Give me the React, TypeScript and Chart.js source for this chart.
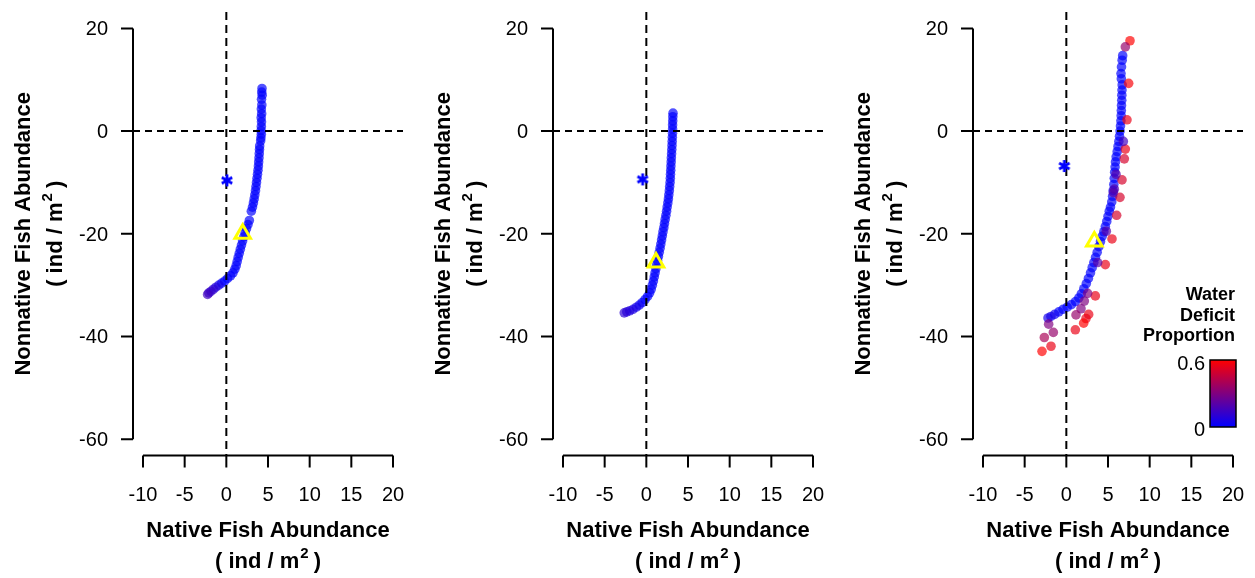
import { useEffect, useRef } from "react";
import { Chart, registerables } from "chart.js";

Chart.register(...registerables);

// ---- shared axis ticks ----
const xTicks = [-10, -5, 0, 5, 10, 15, 20];
const yTicks = [-60, -40, -20, 0, 20];
const legendTicks = [0, 0.6];
const legendTitle = ["Water", "Deficit", "Proportion"];

// ---- panel 1 trajectory ----
const nativeA = [
  4.28, 4.25, 4.3, 4.22, 4.26, 4.2, 4.24, 4.18, 4.22, 4.2, 4.17, 4.2, 4.15, 4.12,
  4.0, 3.98, 3.95, 3.92, 3.88, 3.85, 3.8, 3.74, 3.68, 3.62, 3.56, 3.5, 3.42, 3.34, 3.25, 3.14, 3.0,
  2.76, 2.6, 2.42, 2.25, 2.1, 1.95, 1.82, 1.68, 1.55, 1.42, 1.3, 1.18, 1.02, 0.8, 0.5, 0.15,
  -0.2, -0.55, -0.9, -1.25, -1.55, -1.85, -2.1, -2.25,
];
const nonnativeA = [
  8.3, 7.6, 7.0, 6.2, 5.1, 4.3, 3.4, 2.6, 1.8, 0.9, 0.1, -0.6, -1.3, -1.9,
  -2.9, -3.6, -4.4, -5.2, -6.0, -6.8, -7.6, -8.4, -9.2, -10.0, -10.8, -11.6, -12.4, -13.2, -14.0, -14.8, -15.6,
  -17.4, -18.2, -19.0, -19.8, -20.6, -21.4, -22.2, -23.0, -23.8, -24.6, -25.4, -26.2, -26.9, -27.6, -28.2, -28.7,
  -29.2, -29.6, -30.0, -30.4, -30.8, -31.2, -31.5, -31.8,
];
const deficitA = [
  0, 0, 0, 0, 0, 0, 0, 0, 0, 0, 0, 0, 0, 0,
  0, 0, 0, 0, 0, 0, 0, 0, 0, 0, 0, 0, 0, 0, 0, 0, 0,
  0, 0, 0, 0, 0, 0, 0, 0, 0, 0, 0, 0, 0, 0, 0, 0,
  0, 0, 0.05, 0.08, 0.1, 0.12, 0.12, 0.15,
];
const startA = { x: 0.08, y: -9.6 };
const endA = { x: 1.96, y: -20.0 };

// ---- panel 2 trajectory ----
const nativeB = [
  3.2, 3.18, 3.17, 3.15, 3.15, 3.14, 3.12, 3.1, 3.08, 3.06,
  3.03, 3.0, 2.98, 2.95, 2.93, 2.9, 2.88, 2.85, 2.8, 2.76,
  2.7, 2.65, 2.58, 2.5, 2.43, 2.35, 2.26, 2.18, 2.1, 2.0,
  1.92, 1.83, 1.74, 1.65, 1.55, 1.45, 1.35, 1.25, 1.15, 1.05,
  0.95, 0.85, 0.72, 0.58, 0.4, 0.15, -0.15, -0.5, -0.85, -1.2,
  -1.6, -2.0, -2.35, -2.65,
];
const nonnativeB = [
  3.5, 2.8, 2.0, 1.2, 0.4, -0.4, -1.2, -2.0, -2.8, -3.6,
  -4.4, -5.2, -6.0, -6.8, -7.6, -8.4, -9.2, -10.0, -10.8, -11.6,
  -12.4, -13.2, -14.0, -14.8, -15.6, -16.4, -17.2, -18.0, -18.8, -19.6,
  -20.4, -21.2, -22.0, -22.8, -23.6, -24.4, -25.2, -26.0, -26.8, -27.6,
  -28.4, -29.2, -30.0, -30.8, -31.5, -32.2, -32.8, -33.4, -33.9, -34.3,
  -34.7, -35.0, -35.2, -35.4,
];
const deficitB = [
  0, 0, 0, 0, 0, 0, 0, 0, 0, 0,
  0, 0, 0, 0, 0, 0, 0, 0, 0, 0,
  0, 0, 0, 0, 0, 0, 0, 0, 0, 0,
  0, 0, 0, 0, 0, 0, 0, 0, 0, 0,
  0, 0, 0, 0, 0, 0, 0, 0, 0.03, 0.05,
  0.06, 0.08, 0.08, 0.1,
];
const startB = { x: -0.44, y: -9.4 };
const endB = { x: 1.16, y: -25.6 };

// ---- panel 3 trajectory (coloured by water deficit) ----
const nativeC = [
  6.76, 6.7, 6.62, 6.56, 6.6, 6.7, 6.68, 6.66, 6.65, 6.62,
  6.6, 6.58, 6.55, 6.5, 6.45, 6.38, 6.3, 6.2, 6.1, 5.98,
  5.9, 5.85, 5.8, 5.75, 5.7, 5.62, 5.55, 5.45, 5.3, 5.15,
  5.0, 4.85, 4.68, 4.5, 4.3, 4.1, 3.9, 3.7, 3.5, 3.3,
  3.1, 2.9, 2.65, 2.4, 2.1, 1.8, 1.5, 1.1, 0.6, 0.1,
  -0.4, -0.9, -1.4, -1.85, -2.2,
  7.64, 7.08, 7.48, 7.28, 7.08, 6.96, 6.68, 6.44, 6.04, 5.48,
  4.68, 3.48, 2.68, 2.36, 2.08, 1.08, 2.56, 2.16, 1.76, 1.16,
  -2.12, -1.56, -2.64, -1.84, -2.92, 3.76, 4.8, 5.96, 5.64, 6.84, 5.76,
];
const nonnativeC = [
  14.7, 13.8, 12.5, 11.2, 10.2, 9.0, 8.0, 7.0, 6.0, 5.0,
  4.0, 3.0, 2.0, 1.0, 0.0, -1.0, -2.0, -3.0, -4.0, -5.0,
  -6.0, -7.0, -8.0, -9.2, -10.4, -11.6, -12.7, -13.8, -14.8, -15.6,
  -16.6, -17.6, -18.6, -19.6, -20.5, -21.5, -22.5, -23.6, -24.6, -25.6,
  -26.6, -27.6, -28.7, -29.7, -30.7, -31.7, -32.5, -33.2, -33.8, -34.3,
  -34.7, -35.2, -35.7, -36.1, -36.4,
  17.6, 16.4, 9.3, 2.2, -3.5, -5.4, -9.5, -12.9, -16.4, -21.0,
  -26.0, -32.1, -35.7, -36.5, -37.4, -38.7, -31.6, -33.1, -34.6, -35.8,
  -37.6, -39.2, -40.2, -41.9, -42.9, -25.6, -19.5, -8.4, -12.0, -2.0, -11.3,
];
const deficitC = [
  0, 0, 0, 0, 0, 0, 0, 0, 0, 0,
  0, 0, 0, 0, 0, 0, 0, 0, 0, 0,
  0, 0, 0, 0, 0, 0, 0, 0, 0, 0,
  0, 0, 0, 0, 0, 0, 0, 0, 0, 0,
  0, 0, 0, 0, 0, 0, 0, 0, 0, 0,
  0, 0, 0.03, 0.05, 0.05,
  0.6, 0.35, 0.58, 0.55, 0.55, 0.5, 0.5, 0.5, 0.5, 0.55,
  0.55, 0.55, 0.55, 0.55, 0.6, 0.55, 0.3, 0.3, 0.3, 0.35,
  0.3, 0.35, 0.4, 0.55, 0.6, 0.2, 0.2, 0.2, 0.2, 0.15, 0.2,
];
const startC = { x: -0.24, y: -6.8 };
const endC = { x: 3.36, y: -21.5 };

const DEFICIT_MAX = 0.6;
const FONT = '"Liberation Sans", Arial, Helvetica, sans-serif';
const CANVAS_W = 420;
const CANVAS_H = 578;

function deficitRGB(d: number): [number, number, number] {
  const t = Math.max(0, Math.min(1, d / DEFICIT_MAX));
  return [Math.round(255 * t), 0, Math.round(255 * (1 - t))];
}

function deficitColor(d: number, alpha = 0.6) {
  const [r, g, b] = deficitRGB(d);
  return `rgba(${r},${g},${b},${alpha})`;
}

function makeAsterisk(color: string) {
  const c = document.createElement("canvas");
  c.width = 16;
  c.height = 16;
  const g = c.getContext("2d")!;
  g.strokeStyle = color;
  g.lineWidth = 2.8;
  const r = 6;
  g.beginPath();
  for (const deg of [90, 30, 150]) {
    const a = (deg * Math.PI) / 180;
    g.moveTo(8 + Math.cos(a) * r, 8 - Math.sin(a) * r);
    g.lineTo(8 - Math.cos(a) * r, 8 + Math.sin(a) * r);
  }
  g.stroke();
  return c;
}

// "( ind / m^2 )" centred on cx with the given baseline
function drawUnits(ctx: CanvasRenderingContext2D, cx: number, baseline: number) {
  const big = `bold 22px ${FONT}`;
  const small = `bold 15px ${FONT}`;
  const a = "( ind / m";
  const b = "2";
  const c = " )";
  ctx.font = big;
  const wa = ctx.measureText(a).width;
  const wc = ctx.measureText(c).width;
  ctx.font = small;
  const wb = ctx.measureText(b).width;
  const total = wa + wb + wc;
  let x = cx - total / 2;
  ctx.textAlign = "left";
  ctx.textBaseline = "alphabetic";
  ctx.font = big;
  ctx.fillText(a, x, baseline);
  x += wa;
  ctx.font = small;
  ctx.fillText(b, x + 1, baseline - 10);
  x += wb;
  ctx.font = big;
  ctx.fillText(c, x, baseline);
}

interface PanelProps {
  native: number[];
  nonnative: number[];
  deficit: number[];
  start: { x: number; y: number };
  end: { x: number; y: number };
  showLegend: boolean;
}

function Panel({ native, nonnative, deficit, start, end, showLegend }: PanelProps) {
  const ref = useRef<HTMLCanvasElement | null>(null);

  useEffect(() => {
    const canvas = ref.current;
    if (!canvas) return;

    const axesPlugin = {
      id: "baseAxes",
      afterDatasetDraw(chart: any, args: any) {
        if (args.index !== 0) return;
        const { ctx, chartArea, scales } = chart;
        const px = scales.x.getPixelForValue(0);
        const py = scales.y.getPixelForValue(0);
        ctx.save();
        ctx.strokeStyle = "#000";
        ctx.lineWidth = 2;
        ctx.setLineDash([7, 5]);
        ctx.beginPath();
        ctx.moveTo(chartArea.left, py);
        ctx.lineTo(chartArea.right, py);
        ctx.stroke();
        ctx.setLineDash([8, 5]);
        ctx.beginPath();
        ctx.moveTo(px, chartArea.top);
        ctx.lineTo(px, chartArea.bottom);
        ctx.stroke();
        ctx.restore();
      },
      afterDraw(chart: any) {
        const { ctx, chartArea, scales } = chart;
        const xs = scales.x;
        const ys = scales.y;
        const left = chartArea.left;
        const bottom = chartArea.bottom;
        ctx.save();
        ctx.strokeStyle = "#000";
        ctx.fillStyle = "#000";
        ctx.lineWidth = 2;
        ctx.setLineDash([]);

        // y axis
        ctx.beginPath();
        ctx.moveTo(left, ys.getPixelForValue(yTicks[0]));
        ctx.lineTo(left, ys.getPixelForValue(yTicks[yTicks.length - 1]));
        for (const v of yTicks) {
          const p = ys.getPixelForValue(v);
          ctx.moveTo(left, p);
          ctx.lineTo(left - 12, p);
        }
        // x axis
        ctx.moveTo(xs.getPixelForValue(xTicks[0]), bottom);
        ctx.lineTo(xs.getPixelForValue(xTicks[xTicks.length - 1]), bottom);
        for (const v of xTicks) {
          const p = xs.getPixelForValue(v);
          ctx.moveTo(p, bottom);
          ctx.lineTo(p, bottom + 12);
        }
        ctx.stroke();

        ctx.font = `20px ${FONT}`;
        ctx.textBaseline = "alphabetic";
        ctx.textAlign = "right";
        for (const v of yTicks) {
          ctx.fillText(String(v), left - 25, ys.getPixelForValue(v) + 7);
        }
        ctx.textAlign = "center";
        for (const v of xTicks) {
          ctx.fillText(String(v), xs.getPixelForValue(v), bottom + 45);
        }

        // axis titles
        const cx = (xs.getPixelForValue(xTicks[0]) + xs.getPixelForValue(xTicks[xTicks.length - 1])) / 2;
        ctx.font = `bold 22px ${FONT}`;
        ctx.textAlign = "center";
        ctx.fillText("Native Fish Abundance", cx, bottom + 81);
        drawUnits(ctx, cx, bottom + 112);

        const cy = (ys.getPixelForValue(yTicks[0]) + ys.getPixelForValue(yTicks[yTicks.length - 1])) / 2;
        ctx.save();
        ctx.translate(30, cy);
        ctx.rotate(-Math.PI / 2);
        ctx.font = `bold 22px ${FONT}`;
        ctx.textAlign = "center";
        ctx.fillText("Nonnative Fish Abundance", 0, 0);
        drawUnits(ctx, 0, 32);
        ctx.restore();

        if (showLegend) {
          const bx0 = 370;
          const bx1 = 396;
          const by0 = 360;
          const by1 = 427;
          const grad = ctx.createLinearGradient(0, by1, 0, by0);
          const [r0, g0, b0] = deficitRGB(legendTicks[0]);
          const [r1, g1, b1] = deficitRGB(legendTicks[legendTicks.length - 1]);
          grad.addColorStop(0, `rgb(${r0},${g0},${b0})`);
          grad.addColorStop(1, `rgb(${r1},${g1},${b1})`);
          ctx.fillStyle = grad;
          ctx.fillRect(bx0, by0, bx1 - bx0, by1 - by0);
          ctx.lineWidth = 1.5;
          ctx.strokeRect(bx0, by0, bx1 - bx0, by1 - by0);

          ctx.fillStyle = "#000";
          ctx.font = `20px ${FONT}`;
          ctx.textAlign = "right";
          const lo = legendTicks[0];
          const hi = legendTicks[legendTicks.length - 1];
          for (const v of legendTicks) {
            const t = (v - lo) / (hi - lo);
            const yPix = by1 - t * (by1 - by0);
            const base = t === 0 ? yPix + 9 : yPix + 10;
            ctx.fillText(String(v), 365, base);
          }
          ctx.font = `bold 18px ${FONT}`;
          legendTitle.forEach((line, i) => {
            ctx.fillText(line, 395, 300 + i * 20.5);
          });
        }
        ctx.restore();
      },
    };

    const points = native.map((x, i) => ({ x, y: nonnative[i] }));
    const chart = new Chart(canvas, {
      type: "scatter",
      data: {
        datasets: [
          {
            label: "trajectory",
            data: points,
            backgroundColor: deficit.map((d) => deficitColor(d, 0.68)),
            borderColor: deficit.map((d) => deficitColor(d, 0.68)),
            borderWidth: 0,
            pointRadius: 4.8,
            order: 3,
          },
          {
            label: "start",
            data: [start],
            pointStyle: makeAsterisk("#0000ff") as any,
            pointRadius: 6,
            order: 2,
          },
          {
            label: "end",
            data: [end],
            pointStyle: "triangle",
            pointRadius: 9,
            borderColor: "#ffff00",
            backgroundColor: "rgba(0,0,0,0)",
            borderWidth: 3,
            order: 1,
          },
        ],
      },
      options: {
        animation: false,
        responsive: false,
        devicePixelRatio: 1,
        events: [],
        layout: { padding: { left: 133, right: CANVAS_W - 403, top: 8.4, bottom: CANVAS_H - 455.6 } },
        scales: {
          x: { type: "linear", min: -11.2, max: 21.2, display: false },
          y: { type: "linear", min: -63.2, max: 23.2, display: false },
        },
        plugins: { legend: { display: false }, tooltip: { enabled: false } },
      },
      plugins: [axesPlugin],
    });
    return () => chart.destroy();
  }, [native, nonnative, deficit, start, end, showLegend]);

  return <canvas ref={ref} width={CANVAS_W} height={CANVAS_H} style={{ display: "block" }} />;
}

export default function App() {
  return (
    <div
      style={{
        position: "absolute",
        left: 0,
        top: 0,
        width: 1255,
        height: 578,
        overflow: "hidden",
        background: "#fff",
      }}
    >
      <div style={{ position: "absolute", left: 0, top: 0 }}>
        <Panel native={nativeA} nonnative={nonnativeA} deficit={deficitA} start={startA} end={endA} showLegend={false} />
      </div>
      <div style={{ position: "absolute", left: 420, top: 0 }}>
        <Panel native={nativeB} nonnative={nonnativeB} deficit={deficitB} start={startB} end={endB} showLegend={false} />
      </div>
      <div style={{ position: "absolute", left: 840, top: 0 }}>
        <Panel native={nativeC} nonnative={nonnativeC} deficit={deficitC} start={startC} end={endC} showLegend={true} />
      </div>
    </div>
  );
}
